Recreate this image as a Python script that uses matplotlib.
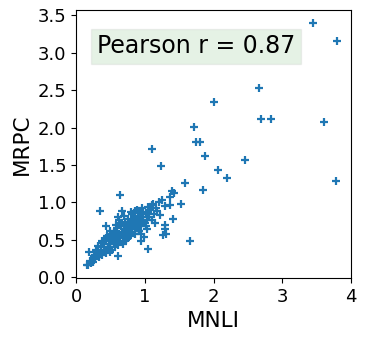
import matplotlib
matplotlib.use("Agg")
import matplotlib.pyplot as plt

# outliers / sparse points
mnli_sparse = [3.44, 3.80, 2.66, 2.01, 2.69, 2.83, 3.61, 1.72, 1.75, 1.80, 1.11,
               1.88, 2.46, 1.24, 2.07, 2.20, 3.78, 1.59, 1.85, 0.64, 1.39, 1.42,
               1.37, 1.25, 1.53, 1.37, 1.30, 1.10, 0.35, 0.67, 0.80, 0.94, 1.05,
               1.22, 1.41, 1.15, 1.03, 0.61, 1.30, 1.30, 1.27, 1.31, 1.03, 0.99,
               0.94, 1.66, 1.05, 0.61, 0.43, 0.19, 0.16]
mrpc_sparse = [3.40, 3.16, 2.53, 2.34, 2.11, 2.11, 2.08, 2.01, 1.81, 1.80, 1.71,
               1.62, 1.56, 1.48, 1.43, 1.33, 1.29, 1.26, 1.17, 1.10, 1.15, 1.13,
               1.07, 1.03, 0.98, 0.97, 0.95, 0.96, 0.88, 0.88, 0.87, 0.85, 0.87,
               0.83, 0.78, 0.72, 0.77, 0.81, 0.70, 0.64, 0.56, 0.58, 0.64, 0.54,
               0.49, 0.48, 0.38, 0.29, 0.69, 0.34, 0.16]

# dense cluster
mnli_dense = [0.18, 0.20, 0.22, 0.24, 0.25, 0.27, 0.28, 0.30, 0.31, 0.33, 0.35,
              0.36, 0.38, 0.40, 0.41, 0.43, 0.44, 0.46, 0.47, 0.48, 0.50, 0.51,
              0.52, 0.53, 0.55, 0.56, 0.57, 0.58, 0.59, 0.60, 0.61, 0.62, 0.63,
              0.64, 0.65, 0.66, 0.67, 0.68, 0.69, 0.70, 0.71, 0.72, 0.73, 0.74,
              0.75, 0.76, 0.77, 0.78, 0.79, 0.80, 0.81, 0.82, 0.83, 0.84, 0.85,
              0.86, 0.87, 0.88, 0.89, 0.90, 0.91, 0.92, 0.93, 0.95, 0.96, 0.98,
              1.00, 1.02, 1.04, 1.06, 1.08, 1.10, 1.12, 1.14, 1.16, 1.18, 1.20,
              0.45, 0.50, 0.55, 0.58, 0.62, 0.66, 0.70, 0.74, 0.78, 0.82, 0.86,
              0.90, 0.94, 0.98, 0.32, 0.37, 0.42, 0.54, 0.60, 0.68, 0.72, 0.76,
              0.80, 0.84, 0.88, 0.92, 0.97, 0.26, 0.29, 0.39, 0.49, 0.57, 0.64,
              0.69, 0.75, 0.85, 0.95, 1.01]
mrpc_dense = [0.17, 0.22, 0.19, 0.26, 0.21, 0.30, 0.24, 0.28, 0.34, 0.27, 0.32,
              0.40, 0.30, 0.36, 0.45, 0.33, 0.52, 0.41, 0.38, 0.48, 0.44, 0.58,
              0.36, 0.50, 0.46, 0.62, 0.40, 0.55, 0.49, 0.66, 0.43, 0.58, 0.52,
              0.47, 0.70, 0.56, 0.61, 0.45, 0.64, 0.53, 0.74, 0.60, 0.50, 0.68,
              0.58, 0.78, 0.63, 0.55, 0.72, 0.66, 0.84, 0.61, 0.76, 0.70, 0.58,
              0.82, 0.74, 0.66, 0.90, 0.71, 0.78, 0.62, 0.86, 0.75, 0.92, 0.80,
              0.72, 0.86, 0.94, 0.80, 0.90, 0.76, 0.98, 0.84, 0.92, 0.88, 1.00,
              0.55, 0.62, 0.60, 0.70, 0.76, 0.68, 0.82, 0.65, 0.60, 0.70, 0.64,
              0.78, 0.68, 0.74, 0.42, 0.48, 0.50, 0.52, 0.54, 0.58, 0.62, 0.72,
              0.74, 0.80, 0.72, 0.62, 0.86, 0.28, 0.36, 0.46, 0.34, 0.44, 0.72,
              0.48, 0.52, 0.88, 0.58, 0.68]

mnli = mnli_sparse + mnli_dense
mrpc = mrpc_sparse + mrpc_dense

fig = plt.figure(figsize=(3.66, 3.42), dpi=100)
ax = fig.add_axes([0.208, 0.187, 0.751, 0.784])
ax.scatter(mnli, mrpc, marker='+', s=40, linewidths=1.6, color='#1f77b4')
ax.set_xlim(0, 4)
ax.set_ylim(-0.01, 3.57)
ax.set_xticks([0, 1, 2, 3, 4])
ax.set_yticks([0.0, 0.5, 1.0, 1.5, 2.0, 2.5, 3.0, 3.5])
ax.tick_params(labelsize=13)
ax.set_xlabel('MNLI', fontsize=15.5)
ax.set_ylabel('MRPC', fontsize=15.5)
ax.text(0.076, 0.864, 'Pearson r = 0.87', transform=ax.transAxes, fontsize=17,
        va='center', ha='left',
        bbox=dict(facecolor='green', alpha=0.1, edgecolor='gray'))
fig.savefig('out.png', dpi=100)
